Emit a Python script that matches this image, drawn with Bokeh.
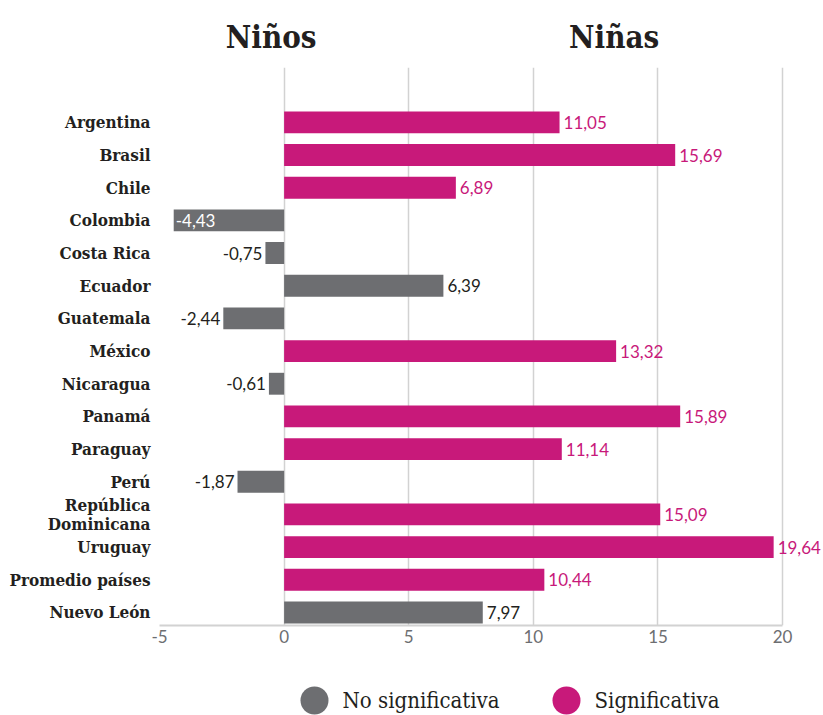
from bokeh.plotting import figure
from bokeh.models import Range1d, FixedTicker, ColumnDataSource
from bokeh.layouts import column
from bokeh.core.properties import value
from bokeh.embed import file_html
from bokeh.resources import INLINE

# ---- data ----
countries = ["Argentina", "Brasil", "Chile", "Colombia", "Costa Rica", "Ecuador",
             "Guatemala", "México", "Nicaragua", "Panamá", "Paraguay", "Perú",
             "República\nDominicana", "Uruguay", "Promedio países", "Nuevo León"]
values = [11.05, 15.69, 6.89, -4.43, -0.75, 6.39, -2.44, 13.32, -0.61, 15.89,
          11.14, -1.87, 15.09, 19.64, 10.44, 7.97]
significant = [True, True, True, False, False, False, False, True, False, True,
               True, False, True, True, True, False]
x_ticks = [-5, 0, 5, 10, 15, 20]
x_tick_labels = ["-5", "0", "5", "10", "15", "20"]
group_titles = ["Niños", "Niñas"]
group_title_x = [-0.52, 13.24]
legend_labels = ["No significativa", "Significativa"]

# ---- style ----
PINK = "#C8197A"
GRAY = "#6D6E71"
DARK = "#231F20"
TICK = "#6D6E71"
GRID = "#D2D2D2"
SERIF_C = "DejaVu Serif Condensed"
SANS = "Lato"

n = len(countries)
idx = list(range(n))
colors = [PINK if s else GRAY for s in significant]
labels = [f"{v:.2f}".replace(".", ",") for v in values]

# label placement: outside bar end; very long negative bars get white label inside
lab_align, lab_off, lab_col = [], [], []
for v, s in zip(values, significant):
    if v >= 0:
        lab_align.append("left"); lab_off.append(4)
        lab_col.append(PINK if s else DARK)
    elif v < -4:
        lab_align.append("left"); lab_off.append(2); lab_col.append("white")
    else:
        lab_align.append("right"); lab_off.append(-3)
        lab_col.append(PINK if s else DARK)

src = ColumnDataSource(dict(y=idx, v=values, c=colors, lab=labels,
                            la=lab_align, lo=lab_off, lc=lab_col))

W = 823
TOP_H = 67
MAIN_H = 660 - TOP_H
LEG_H = 55
LEFT = 159

xr = Range1d(-5, 21.64)

# title strip
top = figure(width=W, height=TOP_H, output_backend="svg", toolbar_location=None,
             x_range=xr, y_range=Range1d(TOP_H, 0), min_border_left=LEFT,
             min_border_right=0, min_border_top=0, min_border_bottom=0,
             x_axis_type=None, y_axis_type=None)
top.outline_line_color = None
top.xgrid.grid_line_color = None
top.ygrid.grid_line_color = None
top.text(x=group_title_x, y=[36, 36], text=group_titles, text_align="center",
         text_baseline="alphabetic", text_font=value(SERIF_C),
         text_font_style="bold", text_font_size="31px", text_color=DARK)

p = figure(width=W, height=MAIN_H, output_backend="svg", toolbar_location=None,
           x_range=xr, y_range=Range1d(15.4, -1.68),
           min_border_left=LEFT, min_border_right=0, min_border_top=0,
           min_border_bottom=35)
p.outline_line_color = None

p.hbar(y="y", left=0, right="v", height=0.67, color="c", line_color=None, source=src)
p.text(x="v", y="y", text="lab", x_offset="lo", text_align="la",
       text_baseline="middle", text_color="lc", text_font=value(SANS),
       text_font_size="17px", source=src)

# x axis
p.xaxis.ticker = FixedTicker(ticks=x_ticks)
p.xaxis.major_label_overrides = {t: l for t, l in zip(x_ticks, x_tick_labels)}
p.xaxis.bounds = (x_ticks[0], x_ticks[-1])
p.xaxis.axis_line_color = GRID
p.xaxis.axis_line_width = 2
p.xaxis.major_tick_out = 0
p.xaxis.major_tick_in = 0
p.xaxis.minor_tick_line_color = None
p.xaxis.major_label_text_font = SANS
p.xaxis.major_label_text_font_size = "17px"
p.xaxis.major_label_text_color = TICK
p.xaxis.major_label_standoff = 4
p.xgrid.ticker = FixedTicker(ticks=x_ticks)
p.xgrid.grid_line_color = GRID
p.xgrid.grid_line_width = 1.5
p.ygrid.grid_line_color = None

# y axis
p.yaxis.ticker = FixedTicker(ticks=idx)
p.yaxis.major_label_overrides = {i: c for i, c in enumerate(countries)}
p.yaxis.axis_line_color = None
p.yaxis.major_tick_out = 0
p.yaxis.major_tick_in = 0
p.yaxis.minor_tick_line_color = None
p.yaxis.major_label_text_font = SERIF_C
p.yaxis.major_label_text_font_style = "bold"
p.yaxis.major_label_text_font_size = "17px"
p.yaxis.major_label_text_color = DARK
p.yaxis.major_label_text_line_height = 0.95
p.yaxis.major_label_standoff = 9

# legend strip (frame aligned with the plots above; x in pixels)
lg = figure(width=W, height=LEG_H, output_backend="svg", toolbar_location=None,
            x_range=Range1d(LEFT, W), y_range=Range1d(LEG_H, 0),
            min_border_left=LEFT, min_border_right=0, min_border_top=0,
            min_border_bottom=0, x_axis_type=None, y_axis_type=None)
lg.outline_line_color = None
lg.xgrid.grid_line_color = None
lg.ygrid.grid_line_color = None
leg_src = ColumnDataSource(dict(
    cx=[314, 566], cy=[40, 40], c=[GRAY, PINK],
    tx=[342, 594], lab=legend_labels))
lg.scatter(x="cx", y="cy", size=28, color="c", line_color=None, source=leg_src)
lg.text(x="tx", y="cy", text="lab", text_baseline="middle", text_align="left",
        text_font=value(SERIF_C), text_font_size="22px", text_color=DARK,
        source=leg_src)

layout = column(top, p, lg, spacing=0)
open("out.html", "w").write(file_html(layout, INLINE))
